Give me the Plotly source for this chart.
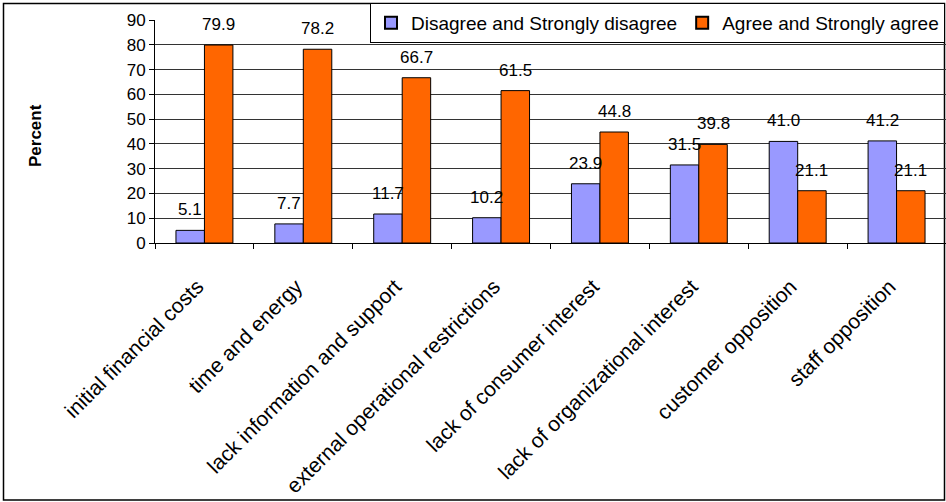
import plotly.graph_objects as go

# Survey barriers: share of respondents disagreeing vs agreeing
categories = [
    "initial financial costs",
    "time and energy",
    "lack information and support",
    "external operational restrictions",
    "lack of consumer interest",
    "lack of organizational interest",
    "customer opposition",
    "staff opposition",
]
disagree = [5.1, 7.7, 11.7, 10.2, 23.9, 31.5, 41.0, 41.2]
agree = [79.9, 78.2, 66.7, 61.5, 44.8, 39.8, 21.1, 21.1]
y_ticks = [0, 10, 20, 30, 40, 50, 60, 70, 80, 90]

W, H = 946, 502
L, R, T, B = 155, 0, 20, 259
plot_w = W - L - R
plot_h = H - T - B

FONT = "Liberation Sans, Arial, sans-serif"
BLUE = "#9999FF"
ORANGE = "#FF6600"
BARGAP = 0.424

fig = go.Figure()
fig.add_trace(go.Bar(
    x=categories, y=disagree, name="Disagree and Strongly disagree",
    marker=dict(color=BLUE, line=dict(color="black", width=1)),
))
fig.add_trace(go.Bar(
    x=categories, y=agree, name="Agree and Strongly agree",
    marker=dict(color=ORANGE, line=dict(color="black", width=1)),
))

# value labels above each bar
cat_px = plot_w / len(categories)
bar_px = cat_px * (1 - BARGAP) / 2
annotations = []
for series, shift in ((disagree, -bar_px / 2), (agree, bar_px / 2)):
    for c, v in zip(categories, series):
        annotations.append(dict(
            x=c, y=v, xref="x", yref="y", text=f"{v:.1f}", showarrow=False,
            xshift=shift, yshift=9, yanchor="bottom", xanchor="center",
            font=dict(family=FONT, size=17, color="black"),
        ))

def px_x(p):
    return (p - L) / plot_w

def px_y(p):
    return (H - B - p) / plot_h

annotations.append(dict(
    x=px_x(35), y=px_y(136), xref="paper", yref="paper", text="<b>Percent</b>",
    textangle=-90, showarrow=False, xanchor="center", yanchor="middle",
    font=dict(family=FONT, size=17, color="black"),
))

fig.update_layout(
    width=W, height=H,
    margin=dict(l=L, r=R, t=T, b=B, pad=0, autoexpand=False),
    paper_bgcolor="white", plot_bgcolor="white",
    barmode="group", bargap=BARGAP, bargroupgap=0,
    font=dict(family=FONT, color="black"),
    showlegend=True,
    legend=dict(
        orientation="h", x=px_x(945), xanchor="right", y=px_y(3), yanchor="top",
        bgcolor="white", bordercolor="black", borderwidth=1,
        font=dict(family=FONT, size=19, color="black"),
        itemsizing="constant", tracegroupgap=0,
    ),
    annotations=annotations,
    shapes=[dict(
        type="rect", xref="paper", yref="paper",
        x0=px_x(3.5), x1=px_x(944.5), y0=px_y(500), y1=px_y(3.5),
        line=dict(color="black", width=1.5), fillcolor="rgba(0,0,0,0)", layer="below",
    )],
)

fig.update_xaxes(
    type="category", tickangle=-45, tickson="boundaries", automargin=False,
    ticks="outside", ticklen=5, tickcolor="black",
    showline=True, linecolor="black", linewidth=1,
    showgrid=False, ticklabelstandoff=22, ticklabelshift=-7,
    tickfont=dict(family=FONT, size=21, color="black"),
)
fig.update_yaxes(
    range=[0, 90], tickvals=y_ticks, ticks="outside", ticklen=5, tickcolor="black",
    showline=True, linecolor="black", linewidth=1, automargin=False,
    showgrid=True, gridcolor="#333333", gridwidth=1, zeroline=False,
    tickfont=dict(family=FONT, size=17, color="black"),
)

fig.write_html("out.html")
